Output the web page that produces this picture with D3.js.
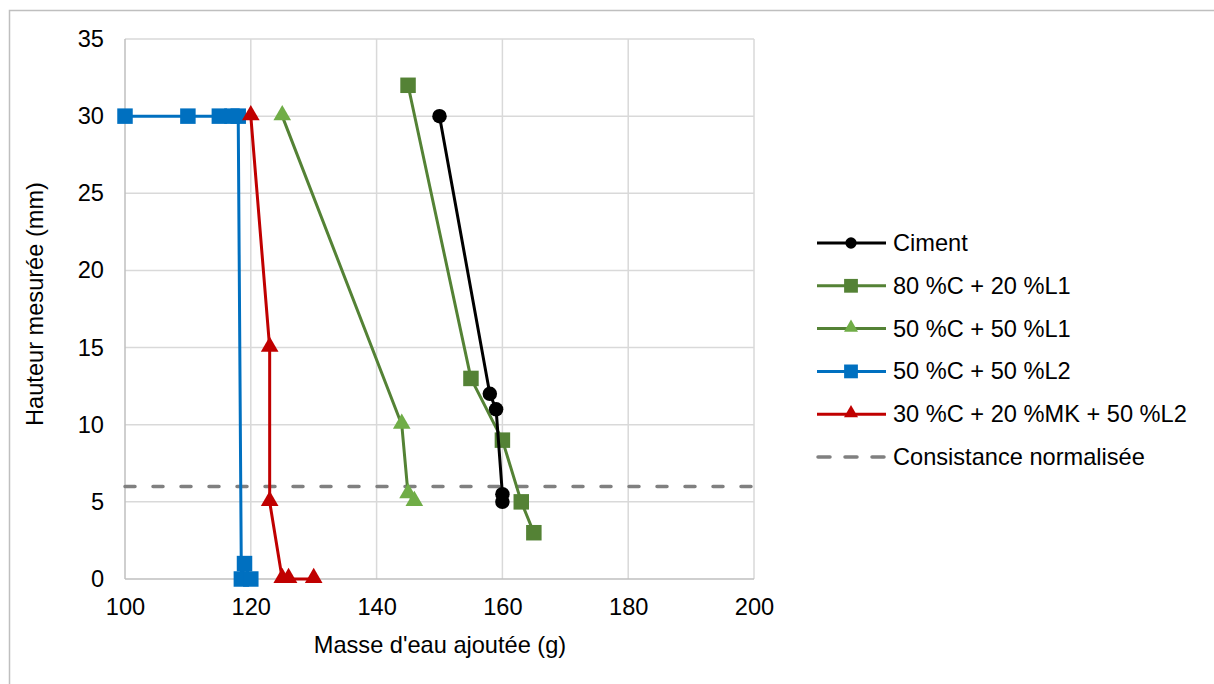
<!DOCTYPE html>
<html><head><meta charset="utf-8">
<script src="https://cdn.jsdelivr.net/npm/d3@7"></script>
<style>
body{margin:0;background:#fff;}
text{font-family:"Liberation Sans",Arial,sans-serif;fill:#000;}
</style></head>
<body><svg id="c" width="1214" height="684"></svg>
<script>
const xTicks=[100,120,140,160,180,200];
const yTicks=[0,5,10,15,20,25,30,35];
const cimentX=[150,158,159,160,160];
const cimentY=[30,12,11,5.5,5];
const c80X=[145,155,160,163,165];
const c80Y=[32,13,9,5,3];
const c50L1X=[125,144,145,146];
const c50L1Y=[30,10,5.5,5];
const c50L2X=[100,110,115,117,118,118.5,119,120];
const c50L2Y=[30,30,30,30,30,0,1,0];
const mkX=[120,123,123,125,126,130];
const mkY=[30,15,5,0,0,0];
const consistanceY=6;
const seriesNames=["Ciment","80 %C + 20 %L1","50 %C + 50 %L1","50 %C + 50 %L2","30 %C + 20 %MK + 50 %L2","Consistance normalisée"];

const FS="23.6px";
const svg=d3.select("#c");
const L=125,R=754,T=39,B=579;
const x=d3.scaleLinear().domain([100,200]).range([L,R]);
const y=d3.scaleLinear().domain([0,35]).range([B,T]);

// outer border
svg.append("path").attr("d","M9.5,684 L9.5,10.5 L1214,10.5").attr("fill","none").attr("stroke","#bfbfbf").attr("stroke-width",1.5);

// grid
svg.append("g").selectAll("line").data(yTicks.filter(d=>d>0)).join("line")
 .attr("x1",L).attr("x2",R).attr("y1",d=>y(d)).attr("y2",d=>y(d)).attr("stroke","#d9d9d9").attr("stroke-width",1.5);
svg.append("g").selectAll("line").data(xTicks.filter(d=>d>100)).join("line")
 .attr("y1",T).attr("y2",B).attr("x1",d=>x(d)).attr("x2",d=>x(d)).attr("stroke","#d9d9d9").attr("stroke-width",1.5);

// axes
const xa=svg.append("g").attr("transform",`translate(0,${B})`).call(d3.axisBottom(x).tickValues(xTicks).tickSize(0).tickPadding(19));
const ya=svg.append("g").attr("transform",`translate(${L},0)`).call(d3.axisLeft(y).tickValues(yTicks).tickSize(0).tickPadding(21));
[xa,ya].forEach(a=>{a.attr("font-size",null).attr("font-family",null);
 a.select(".domain").attr("stroke","#bfbfbf").attr("stroke-width",1.5);
 a.selectAll("text").style("font-size",FS).attr("fill","#000");});
ya.select(".domain").attr("d",`M0,${B}V${T}`);
xa.select(".domain").attr("d",`M${L},0H${R}`);

svg.append("text").attr("x",440).attr("y",653).attr("text-anchor","middle").style("font-size",FS).text("Masse d'eau ajoutée (g)");
svg.append("text").attr("transform","translate(43,304) rotate(-90)").attr("text-anchor","middle").style("font-size",FS).text("Hauteur mesurée (mm)");

// consistance line
svg.append("line").attr("x1",x(100)).attr("x2",x(200)).attr("y1",y(consistanceY)).attr("y2",y(consistanceY))
 .attr("stroke","#808080").attr("stroke-width",3.5).attr("stroke-dasharray","10,18").attr("stroke-linecap","round");

const sym={circle:d3.symbolCircle,square:d3.symbolSquare,triangle:d3.symbolTriangle};
const series=[
 {xs:c50L2X,ys:c50L2Y,line:"#0070c0",fill:"#0070c0",m:"square",size:240},
 {xs:mkX,ys:mkY,line:"#c00000",fill:"#c00000",m:"triangle",size:135},
 {xs:c50L1X,ys:c50L1Y,line:"#548235",fill:"#70ad47",m:"triangle",size:135},
 {xs:c80X,ys:c80Y,line:"#548235",fill:"#548235",m:"square",size:240},
 {xs:cimentX,ys:cimentY,line:"#000",fill:"#000",m:"circle",size:165},
];
const line=d3.line().x(d=>x(d[0])).y(d=>y(d[1]));
series.forEach(s=>{
 const pts=s.xs.map((v,i)=>[v,s.ys[i]]);
 const g=svg.append("g");
 g.append("path").attr("d",line(pts)).attr("fill","none").attr("stroke",s.line).attr("stroke-width",3).attr("stroke-linejoin","round");
 g.selectAll("path.m").data(pts).join("path").attr("class","m")
  .attr("d",d3.symbol().type(sym[s.m]).size(s.size))
  .attr("transform",d=>`translate(${x(d[0])},${y(d[1])+(s.m==="triangle"?-1:0)})`).attr("fill",s.fill);
});

// legend
const leg=[
 {line:"#000",fill:"#000",m:"circle",size:100},
 {line:"#548235",fill:"#548235",m:"square",size:190},
 {line:"#548235",fill:"#70ad47",m:"triangle",size:85},
 {line:"#0070c0",fill:"#0070c0",m:"square",size:190},
 {line:"#c00000",fill:"#c00000",m:"triangle",size:85},
 {dash:true}
];
const lg=svg.append("g");
leg.forEach((s,i)=>{
 const yy=243+i*42.8;
 if(s.dash){
  lg.append("line").attr("x1",818).attr("x2",886).attr("y1",yy).attr("y2",yy).attr("stroke","#808080").attr("stroke-width",3.5).attr("stroke-dasharray","12,15").attr("stroke-linecap","round");
 } else {
  lg.append("line").attr("x1",817).attr("x2",886).attr("y1",yy).attr("y2",yy).attr("stroke",s.line).attr("stroke-width",3);
  lg.append("path").attr("d",d3.symbol().type(sym[s.m]).size(s.size)).attr("transform",`translate(851,${yy+(s.m==="triangle"?-1:0)})`).attr("fill",s.fill);
 }
 lg.append("text").attr("x",893).attr("y",yy+8).style("font-size",FS).text(seriesNames[i]);
});
</script></body></html>
